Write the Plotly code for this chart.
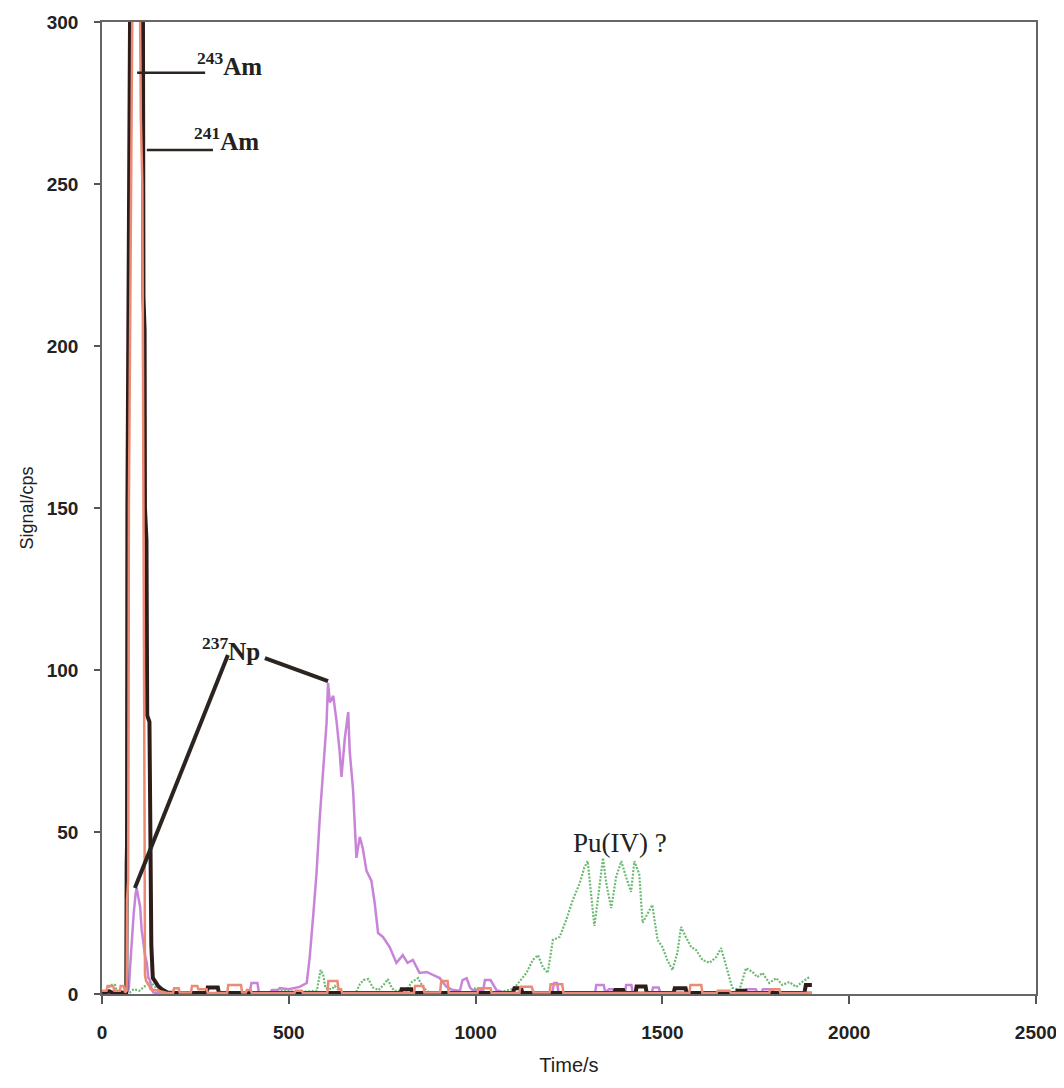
import plotly.graph_objects as go

# ---------------- data ----------------
# 241Am  (dark line)
am241_t = [0, 20, 30, 45, 60, 65, 66, 67, 68, 72, 75, 80, 90, 105, 108, 110, 111, 114, 115, 119, 121, 127, 129, 132, 136, 142, 150, 160, 175,
           200, 280, 283, 310, 313, 800, 802, 828, 830, 1100, 1104, 1122, 1125, 1370, 1374, 1395, 1398, 1428, 1431, 1455, 1458,
           1530, 1533, 1562, 1565, 1698, 1701, 1722, 1725, 1880, 1884, 1900]
am241_v = [0.3, 0.8, 0.3, 0.6, 0.3, 0.5, 40, 46, 150, 235, 300, 600, 1500, 900, 400, 300, 215, 205, 150, 140, 86, 84, 50, 15, 5, 4, 2.5, 1.5, 0.5,
           0.3, 0.3, 2, 2, 0.3, 0.3, 1.5, 1.5, 0.3, 0.3, 1.8, 1.8, 0.3, 0.3, 1.2, 1.2, 0.3, 0.3, 2.3, 2.3, 0.3,
           0.3, 1.8, 1.8, 0.3, 0.3, 1, 1, 0.3, 0.3, 2.8, 2.8]

# 243Am  (salmon line)
am243_t = [0, 12, 15, 30, 33, 48, 50, 58, 62, 66, 67, 70, 72, 78, 81, 85, 95, 100, 102, 104, 108, 112, 114, 115, 118, 125, 130, 150, 175,
           190, 193, 205, 208, 238, 241, 255, 258, 280, 283, 335, 338, 372, 375, 385, 388, 398, 401, 515, 518, 535, 538,
           603, 606, 630, 633, 640, 643, 835, 838, 860, 863, 905, 908, 925, 928, 1005, 1008, 1040, 1043, 1117, 1120, 1150, 1155,
           1198, 1201, 1232, 1235, 1572, 1575, 1604, 1607, 1645, 1648, 1680, 1683, 1786, 1789, 1813, 1816, 1900]
am243_v = [1, 1, 2.5, 2.5, 1, 1, 2.5, 2.5, 0.5, 1, 29, 35, 150, 250, 300, 700, 1200, 600, 300, 270, 250, 150, 50, 6, 4, 3, 1.5, 1, 0.3,
           0.3, 1.8, 1.8, 0.5, 0.5, 2.5, 2.5, 1.5, 1.5, 0.3, 0.3, 2.8, 2.8, 0.5, 0.5, 1.2, 1.2, 0.3, 0.3, 1, 1, 0.3,
           0.3, 4, 4, 1.5, 1.5, 0.3, 0.3, 2.5, 2.5, 0.5, 0.5, 4, 4, 0.3, 0.3, 1.8, 1.8, 0.3, 0.3, 2.2, 2.2, 0.5,
           0.5, 3, 3, 0.3, 0.3, 2.8, 2.8, 0.3, 0.3, 1, 1, 0.3, 0.3, 1.5, 1.5, 0.3, 0.3]

# 237Np  (orchid line)
np237_t = [0, 60, 70, 72, 75, 78, 80, 85, 90, 93, 97, 102, 106, 110, 115, 120, 124, 128, 133, 137, 150,
           395, 400, 416, 420, 450, 455, 470, 476, 500, 529, 548, 556, 565, 574, 583, 592, 601, 605, 610, 619, 628, 636, 641,
           650, 659, 663, 672, 681, 690, 698, 708, 721, 730, 739, 752, 770, 788, 805, 818, 832, 850, 869, 885, 904, 922, 939,
           958, 965, 976, 985, 992, 1020, 1025, 1040, 1056, 1080, 1205, 1210, 1218, 1222, 1320, 1323, 1343, 1347, 1357, 1370,
           1374, 1400, 1403, 1417, 1420, 1472, 1475, 1490, 1494, 1722, 1725, 1750, 1754, 1766, 1769, 1795, 1798, 1900]
np237_v = [0.2, 0.2, 1, 2, 8, 14, 17, 25, 31, 32.7, 30, 27, 20, 16, 12, 9.6, 5, 4.3, 1.5, 0.5, 0.2,
           0.2, 3.4, 3.4, 0.5, 0.5, 1.2, 1.2, 1.8, 1.5, 2.2, 3.4, 11.4, 23.7, 37, 54.6, 68, 83.6, 96, 90, 92, 84, 75, 67,
           79, 87, 75, 63, 42, 48.5, 45, 38, 35, 28, 18.8, 17.6, 14.5, 9.6, 12, 9.6, 10.5, 6.5, 6.8, 5.9, 4.9, 2.2, 1.2,
           1, 4.3, 4.9, 2, 1.2, 1, 4.3, 4.3, 1.2, 0.3, 0.3, 3.4, 3.4, 0.5, 0.5, 2.8, 2.8, 0.5, 1.5, 1.5,
           0.5, 0.5, 2.8, 2.8, 0.5, 0.5, 2, 2, 0.5, 0.5, 1.5, 1.5, 0.5, 0.5, 1.5, 1.5, 0.5, 0.5]

# Pu(IV)  (green dotted line)
pu_t = [0, 15, 22, 35, 40, 75, 85, 100, 110, 130, 140, 155, 170, 460, 470, 505, 515, 575, 585, 592, 598, 615, 623, 640,
        680, 690, 700, 713, 725, 740, 755, 765, 775, 783, 815, 829, 846, 860, 875, 990, 1000, 1010, 1025, 1060, 1080, 1100,
        1110, 1136, 1153, 1167, 1180, 1193, 1207, 1225, 1243, 1260, 1278, 1291, 1300, 1305, 1318, 1327, 1341, 1350, 1363,
        1376, 1390, 1403, 1416, 1425, 1438, 1447, 1460, 1473, 1487, 1500, 1513, 1527, 1540, 1550, 1564, 1577, 1590, 1607,
        1626, 1644, 1657, 1671, 1687, 1706, 1724, 1741, 1754, 1768, 1786, 1805, 1821, 1840, 1858, 1874, 1893]
pu_v = [0.5, 0.5, 2.8, 2.8, 0.5, 0.5, 1.5, 1, 2, 3.7, 2.5, 0.5, 0.3, 0.3, 1, 1, 0.5, 1, 7.4, 6, 1.8, 1.5, 2.5, 0.5,
        0.5, 3, 4.3, 4.6, 2, 1.2, 3, 4.6, 2, 1, 1, 3.7, 4.9, 2, 0.5, 0.5, 2, 1.5, 0.5, 0.5, 1, 1.5,
        2.8, 6.5, 10.5, 12, 8.3, 6.5, 16.7, 17.6, 23, 29, 34, 39, 41, 35, 21, 29, 42, 34, 26.5,
        36, 41, 36, 31.5, 41, 37, 22, 25, 27.5, 16.7, 14.5, 10.5, 7.4, 12.7, 20.7, 17.3, 14.5, 13.6, 10.5,
        9.6, 11.4, 14.2, 8.3, 1.9, 1.2, 8, 6.8, 5.2, 6.5, 3.4, 4.9, 2.8, 3.7, 2.2, 3.7, 5.2]

x_ticks = [0, 500, 1000, 1500, 2000, 2500]
y_ticks = [0, 50, 100, 150, 200, 250, 300]

# labels: (text, x, y) in data units
labels = [("<sup>243</sup>Am", 249, 287),
          ("<sup>241</sup>Am", 241, 264),
          ("<sup>237</sup>Np", 262, 106.5)]
pu_label = ("Pu(IV) ?", 1386, 46.6)

# leader lines: (x0, y0, x1, y1, width) in data units
leaders = [(94, 284.3, 276, 284.3, 2.5),
           (120, 260.5, 297, 260.5, 2.5),
           (88, 32.7, 337, 104.6, 4),
           (436, 103.7, 605, 96.6, 4)]

# ---------------- figure ----------------
fig = go.Figure()
fig.add_trace(go.Scatter(x=pu_t, y=pu_v, mode="lines", name="Pu(IV)",
                         line=dict(color="#6cba72", width=2.2, dash="2px,1.5px")))
fig.add_trace(go.Scatter(x=np237_t, y=np237_v, mode="lines", name="237Np",
                         line=dict(color="#c884d8", width=2.5)))
fig.add_trace(go.Scatter(x=am241_t, y=am241_v, mode="lines", name="241Am",
                         line=dict(color="#2e1c1a", width=4)))
fig.add_trace(go.Scatter(x=am243_t, y=am243_v, mode="lines", name="243Am",
                         line=dict(color="#ec8a74", width=2.5)))

for x0, y0, x1, y1, w in leaders:
    fig.add_shape(type="line", xref="x", yref="y", x0=x0, y0=y0, x1=x1, y1=y1,
                  line=dict(color="#2b2420", width=w))

for txt, x, y in labels:
    fig.add_annotation(x=x, y=y, xref="x", yref="y", text=txt, showarrow=False,
                       xanchor="left", yanchor="middle",
                       font=dict(family="Liberation Serif", size=25, color="#222", weight="bold"))
fig.add_annotation(x=pu_label[1], y=pu_label[2], xref="x", yref="y", text=pu_label[0],
                   showarrow=False, xanchor="center", yanchor="middle",
                   font=dict(family="Liberation Serif", size=27, color="#222"))

# page has an 8px body margin, so the figure is sized/margined to compensate
fig.update_layout(
    width=1056, height=1072,
    margin=dict(l=94, r=28, t=14, b=86, autoexpand=False),
    paper_bgcolor="white", plot_bgcolor="white",
    showlegend=False,
    xaxis=dict(range=[0, 2500], tickvals=x_ticks, showgrid=False, zeroline=False,
               automargin=False,
               showline=True, mirror=True, linecolor="#666", linewidth=1.5,
               ticks="outside", ticklen=8, tickcolor="#555", tickwidth=1.5,
               ticklabelstandoff=12,
               tickfont=dict(family="Liberation Sans", size=19, color="#222", weight="bold"),
               title=dict(text="Time/s", standoff=16,
                          font=dict(family="Liberation Sans", size=20, color="#222"))),
    yaxis=dict(range=[0, 300], tickvals=y_ticks, showgrid=False, zeroline=False,
               automargin=False,
               showline=True, mirror=True, linecolor="#666", linewidth=1.5,
               ticks="outside", ticklen=6, tickcolor="#555", tickwidth=1.5,
               ticklabelstandoff=12,
               tickfont=dict(family="Liberation Sans", size=19, color="#222", weight="bold"),
               title=dict(text="Signal/cps", standoff=8,
                          font=dict(family="Liberation Sans", size=18, color="#222"))),
)

fig.write_html("out.html")
